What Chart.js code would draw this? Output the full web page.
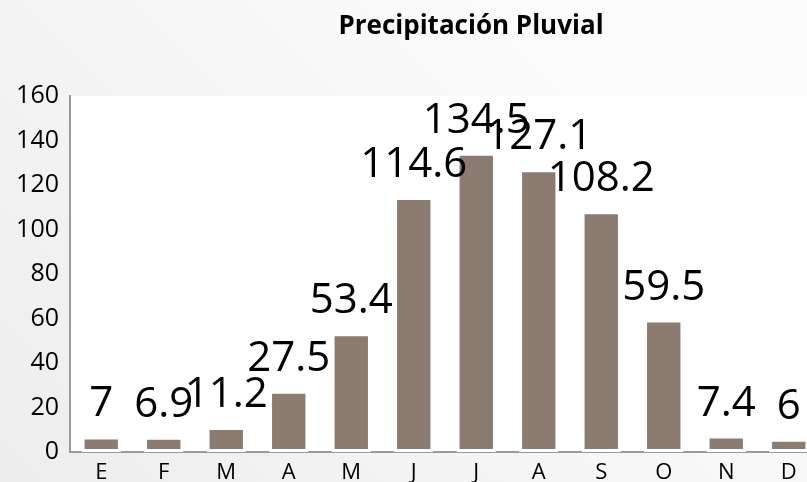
<!DOCTYPE html>
<html>
<head>
<meta charset="utf-8">
<script src="https://cdn.jsdelivr.net/npm/chart.js@4.4.1/dist/chart.umd.min.js"></script>
<style>
  html, body { margin: 0; padding: 0; overflow: hidden; background: #f2f2f2; }
  #wrap { width: 820px; height: 482px; }
</style>
</head>
<body>
<div id="wrap"><canvas id="chart"></canvas></div>
<script>
// monthly rainfall
const months = ['E', 'F', 'M', 'A', 'M', 'J', 'J', 'A', 'S', 'O', 'N', 'D'];
const rain = [7, 6.9, 11.2, 27.5, 53.4, 114.6, 134.5, 127.1, 108.2, 59.5, 7.4, 6];
const chartTitle = 'Precipitación Pluvial';
const yMax = 160;
const yStep = 20;

const FONT = "'Open Sans', 'Liberation Sans', sans-serif";

// grey gradient behind everything, white plot area, title on top
const backdrop = {
    id: 'backdrop',
    beforeDraw: function(chart){
        const ctx = chart.ctx;
        const a = chart.chartArea;
        const g = ctx.createLinearGradient(0, chart.height, chart.width * 0.6, 0);
        g.addColorStop(0, '#ededed');
        g.addColorStop(1, '#fbfbfb');
        ctx.save();
        ctx.fillStyle = g;
        ctx.fillRect(0, 0, chart.width, chart.height);
        ctx.fillStyle = '#ffffff';
        ctx.fillRect(a.left, a.top, a.right - a.left, a.bottom - a.top);

        ctx.font = 'bold 26px ' + FONT;
        ctx.fillStyle = '#000000';
        ctx.textAlign = 'center';
        ctx.textBaseline = 'alphabetic';
        ctx.fillText(chartTitle, 471, 34);
        ctx.restore();
    }
};

// value labels above each bar
const barValues = {
    id: 'barValues',
    afterDatasetsDraw: function(chart){
        const ctx = chart.ctx;
        const meta = chart.getDatasetMeta(0);
        ctx.save();
        ctx.font = '42px ' + FONT;
        ctx.fillStyle = '#000000';
        ctx.textAlign = 'center';
        ctx.textBaseline = 'alphabetic';
        meta.data.forEach((bar, i) => {
            ctx.fillText(String(rain[i]), bar.x, bar.y - 20);
        });
        ctx.restore();
    }
};

new Chart(document.getElementById('chart').getContext('2d'), {
    type: 'bar',
    data: {
        labels: months,
        datasets: [{
            label: 'Precipitación',
            data: rain,
            backgroundColor: '#8b7b70',
            borderColor: '#ffffff',
            borderWidth: 3,
            borderSkipped: false,
            categoryPercentage: 1,
            barPercentage: 0.63,
        }]
    },
    options: {
        responsive: true,
        maintainAspectRatio: false,
        animation: false,
        layout: { padding: { top: 96 } },
        plugins: {
            legend: { display: false },
            tooltip: { enabled: false },
            title: { display: false }
        },
        scales: {
            x: {
                grid: { display: false },
                border: { color: '#9a9a9a', width: 2 },
                ticks: { color: '#000000', font: { family: FONT, size: 22 }, padding: 0 },
                afterFit: function(scale){ scale.height = 30; }
            },
            y: {
                min: 0,
                max: yMax,
                grid: { display: false },
                border: { color: '#9a9a9a', width: 2 },
                ticks: { stepSize: yStep, color: '#000000', font: { family: FONT, size: 25 }, padding: 3 },
                afterFit: function(scale){ scale.width = 70; }
            }
        }
    },
    plugins: [backdrop, barValues]
});
</script>
</body>
</html>
